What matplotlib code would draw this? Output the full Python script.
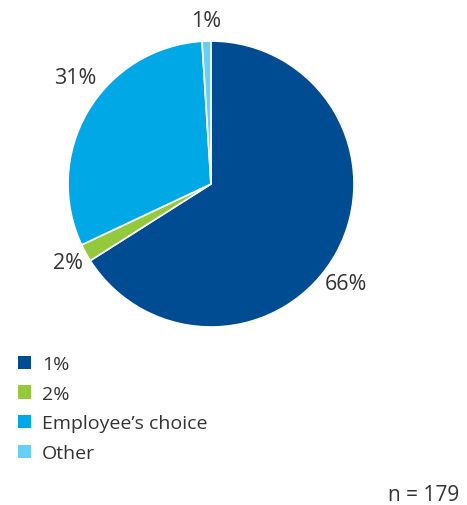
import matplotlib
matplotlib.use("Agg")
import matplotlib.pyplot as plt
from matplotlib.patches import Patch

plt.rcParams['font.family'] = ['Open Sans', 'DejaVu Sans']

# contribution split
categories = ["1%", "2%", "Employee\u2019s choice", "Other"]
shares = [66, 2, 31, 1]
colors = ["#004c93", "#95c93d", "#00a9e6", "#66cff5"]
label_pos = [(0.944, -0.699), (-1.0, -0.552), (-0.951, 0.748), (-0.035, 1.14)]
n_resp = 179

text_col = "#333333"

fig = plt.figure(figsize=(4.67, 5.06), dpi=100)
ax = fig.add_axes([68 / 467, 1 - 328 / 506, 286 / 467, 286 / 506])

wedges, _ = ax.pie(shares, colors=colors, startangle=90, counterclock=False,
                   radius=1, wedgeprops=dict(edgecolor="white", linewidth=1.2))
ax.set_xlim(-1, 1)
ax.set_ylim(-1, 1)
ax.set_aspect("equal")
ax.axis("off")

for val, (x, y) in zip(shares, label_pos):
    ax.text(x, y, f"{val}%", ha="center", va="center", fontsize=15.5,
            color=text_col, clip_on=False)

handles = [Patch(facecolor=c, edgecolor="none") for c in colors]
fig.legend(handles, categories, loc="upper left", bbox_to_anchor=(18 / 467, 1 - 356 / 506),
           frameon=False, fontsize=14, labelcolor=text_col, handlelength=0.68,
           handleheight=0.68, handletextpad=0.55, labelspacing=0.6, borderpad=0,
           borderaxespad=0)

fig.text(459 / 467, 1 - 496 / 506, f"n = {n_resp}", ha="right", va="center",
         fontsize=15, color=text_col)

fig.savefig("out.png", dpi=100)
